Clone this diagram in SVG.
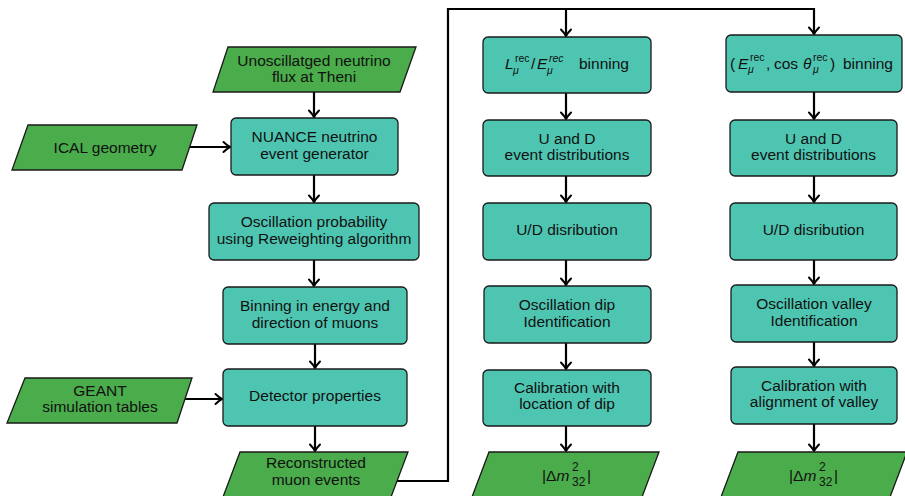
<svg xmlns="http://www.w3.org/2000/svg" width="905" height="496" viewBox="0 0 905 496">
<style>
.box{fill:#4ec5b1;stroke:#1a1a1a;stroke-width:1.3}
.io{fill:#4aac4a;stroke:#1a1a1a;stroke-width:1.3}
text{font-family:"Liberation Sans",Arial,sans-serif;font-size:15.5px;fill:#111;text-anchor:middle}
.s{text-anchor:start}
.sm{font-size:10.5px}
.su{font-size:12px}
.it{font-style:italic}
.c{fill:none;stroke:#000;stroke-width:2.2;stroke-linejoin:miter}
</style>
<defs>
<marker id="ar" markerUnits="userSpaceOnUse" markerWidth="14" markerHeight="14" viewBox="-9 -7 11 14" refX="0" refY="0" orient="auto">
<path d="M-6.5,-5 Q-2.5,-1.2 0,0 Q-2.5,1.2 -6.5,5" fill="none" stroke="#000" stroke-width="2" stroke-linecap="round"/>
</marker>
</defs>
<g id="connectors">
<path class="c" d="M314,92 V117" marker-end="url(#ar)"/>
<path class="c" d="M190,147 H230" marker-end="url(#ar)"/>
<path class="c" d="M314,175 V202" marker-end="url(#ar)"/>
<path class="c" d="M314,260 V286" marker-end="url(#ar)"/>
<path class="c" d="M315,344 V368" marker-end="url(#ar)"/>
<path class="c" d="M185,399 H222" marker-end="url(#ar)"/>
<path class="c" d="M315,426 V451" marker-end="url(#ar)"/>
<path class="c" d="M397,481 H448 V9 H814 V34" marker-end="url(#ar)"/>
<path class="c" d="M566,9 V36" marker-end="url(#ar)"/>
<path class="c" d="M566,93 V119" marker-end="url(#ar)"/>
<path class="c" d="M566,176 V202" marker-end="url(#ar)"/>
<path class="c" d="M566,260 V285" marker-end="url(#ar)"/>
<path class="c" d="M566,343 V369" marker-end="url(#ar)"/>
<path class="c" d="M566,426 V451" marker-end="url(#ar)"/>
<path class="c" d="M814,92 V119" marker-end="url(#ar)"/>
<path class="c" d="M814,176 V202" marker-end="url(#ar)"/>
<path class="c" d="M814,260 V284" marker-end="url(#ar)"/>
<path class="c" d="M814,342 V366" marker-end="url(#ar)"/>
<path class="c" d="M814,424 V451" marker-end="url(#ar)"/>
</g>
<g id="flux">
<polygon class="io" points="228,47 416,47 400,92 213,92"/>
<text x="314" y="65.5">Unoscillatged neutrino</text>
<text x="314" y="82">flux at Theni</text>
</g>
<g id="ical">
<polygon class="io" points="28,125 197,125 182,170 12,170"/>
<text x="105" y="152.5">ICAL geometry</text>
</g>
<g id="nuance">
<rect class="box" x="231" y="118" width="167" height="57" rx="5"/>
<text x="314.5" y="142">NUANCE neutrino</text>
<text x="314.5" y="158.5">event generator</text>
</g>
<g id="oscprob">
<rect class="box" x="209" y="203" width="210" height="57" rx="5"/>
<text x="314" y="227">Oscillation probability</text>
<text x="314" y="243.5">using Reweighting algorithm</text>
</g>
<g id="binning">
<rect class="box" x="223" y="287" width="184" height="57" rx="5"/>
<text x="315" y="311">Binning in energy and</text>
<text x="315" y="327.5">direction of muons</text>
</g>
<g id="geant">
<polygon class="io" points="25,378 192,378 177,423 7,423"/>
<text x="100" y="395.5">GEANT</text>
<text x="100" y="412">simulation tables</text>
</g>
<g id="detector">
<rect class="box" x="223" y="369" width="184" height="57" rx="5"/>
<text x="315" y="401">Detector properties</text>
</g>
<g id="reco">
<polygon class="io" points="240,452 408,452 391,497 223,497"/>
<text x="316" y="468">Reconstructed</text>
<text x="316" y="484.5">muon events</text>
</g>
<g id="m1">
<rect class="box" x="483" y="37" width="168" height="56" rx="5"/>
<text class="s" y="69"><tspan class="it" x="505">L</tspan><tspan class="sm" x="515" y="62">rec</tspan><tspan class="sm it" x="513" y="74">μ</tspan><tspan x="531" y="69">/</tspan><tspan class="it" x="537">E</tspan><tspan class="sm it" x="549" y="62">rec</tspan><tspan class="sm it" x="547" y="74">μ</tspan><tspan x="579" y="69">binning</tspan></text>
</g>
<g id="m2">
<rect class="box" x="483" y="120" width="168" height="56" rx="5"/>
<text x="567" y="143.5">U and D</text>
<text x="567" y="160">event distributions</text>
</g>
<g id="m3">
<rect class="box" x="483" y="203" width="168" height="57" rx="5"/>
<text x="567" y="235">U/D disribution</text>
</g>
<g id="m4">
<rect class="box" x="484" y="286" width="167" height="57" rx="5"/>
<text x="567" y="310">Oscillation dip</text>
<text x="567" y="326.5">Identification</text>
</g>
<g id="m5">
<rect class="box" x="483" y="370" width="168" height="56" rx="5"/>
<text x="567" y="392.5">Calibration with</text>
<text x="567" y="409">location of dip</text>
</g>
<g id="m6">
<polygon class="io" points="489,452 659,452 642,497 472,497"/>
<text class="s" y="481"><tspan x="542">|Δ</tspan><tspan class="it">m</tspan><tspan class="su" x="572" y="471">2</tspan><tspan class="su" x="572" y="486">32</tspan><tspan x="587" y="481">|</tspan></text>
</g>
<g id="r1">
<rect class="box" x="726" y="35" width="176" height="57" rx="5"/>
<text class="s" y="69"><tspan x="730">(</tspan><tspan class="it" x="738">E</tspan><tspan class="sm" x="750" y="61">rec</tspan><tspan class="sm it" x="748" y="73">μ</tspan><tspan x="766" y="69">,</tspan><tspan x="774">cos</tspan><tspan class="it" x="803">θ</tspan><tspan class="sm" x="813" y="61">rec</tspan><tspan class="sm it" x="813" y="73">μ</tspan><tspan x="830" y="69">)</tspan><tspan x="843">binning</tspan></text>
</g>
<g id="r2">
<rect class="box" x="730" y="120" width="167" height="56" rx="5"/>
<text x="813.5" y="143.5">U and D</text>
<text x="813.5" y="160">event distributions</text>
</g>
<g id="r3">
<rect class="box" x="730" y="203" width="167" height="57" rx="5"/>
<text x="813.5" y="235">U/D disribution</text>
</g>
<g id="r4">
<rect class="box" x="731" y="285" width="166" height="57" rx="5"/>
<text x="814" y="309">Oscillation valley</text>
<text x="814" y="325.5">Identification</text>
</g>
<g id="r5">
<rect class="box" x="731" y="367" width="166" height="57" rx="5"/>
<text x="814" y="390.5">Calibration with</text>
<text x="814" y="407">alignment of valley</text>
</g>
<g id="r6">
<polygon class="io" points="738,452 907,452 890,497 721,497"/>
<text class="s" y="481"><tspan x="789">|Δ</tspan><tspan class="it">m</tspan><tspan class="su" x="819" y="471">2</tspan><tspan class="su" x="819" y="486">32</tspan><tspan x="834" y="481">|</tspan></text>
</g>
</svg>
